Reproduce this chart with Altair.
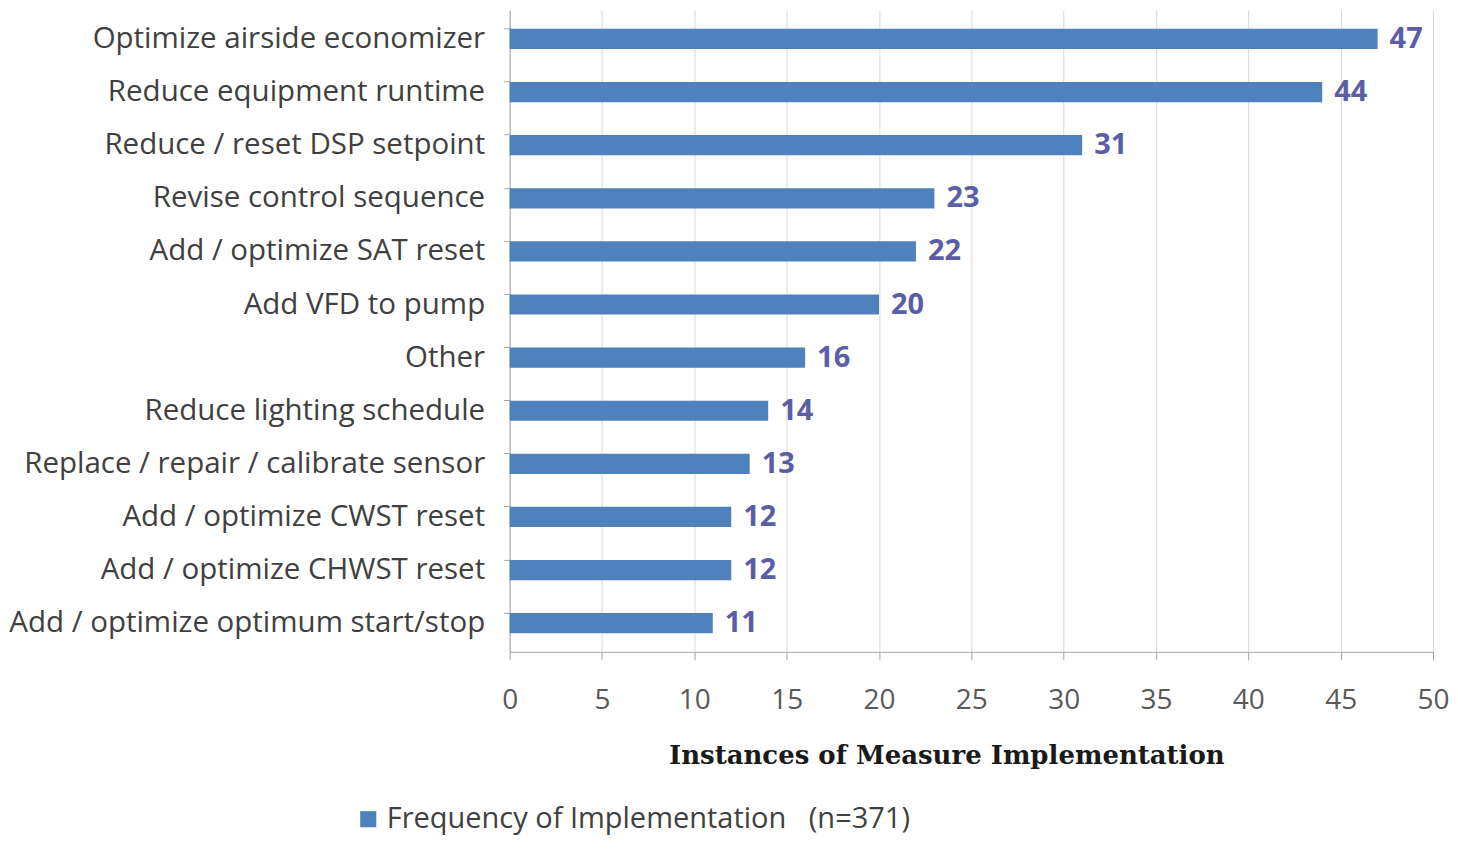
import altair as alt
import pandas as pd

measures = [
    "Optimize airside economizer",
    "Reduce equipment runtime",
    "Reduce / reset DSP setpoint",
    "Revise control sequence",
    "Add / optimize SAT reset",
    "Add VFD to pump",
    "Other",
    "Reduce lighting schedule",
    "Replace / repair / calibrate sensor",
    "Add / optimize CWST reset",
    "Add / optimize CHWST reset",
    "Add / optimize optimum start/stop",
]
counts = [47, 44, 31, 23, 22, 20, 16, 14, 13, 12, 12, 11]
x_ticks = [0, 5, 10, 15, 20, 25, 30, 35, 40, 45, 50]
series_name = "Frequency of Implementation\u00a0\u00a0\u00a0(n=371)"

df = pd.DataFrame({"measure": measures, "count": counts, "series": [series_name] * len(measures)})

FONT = "Open Sans"

y_enc = alt.Y(
    "measure:N",
    sort=measures,
    title=None,
    scale=alt.Scale(paddingInner=0.62, paddingOuter=0.35),
    axis=alt.Axis(
        labelFont=FONT, labelFontSize=29.5, labelColor="#404040",
        domainColor="#A6A6A6", tickColor="#A6A6A6", tickSize=6,
        bandPosition=0, labelPadding=19, labelLimit=600,
        minExtent=501, maxExtent=501, grid=False,
    ),
)
x_enc = alt.X(
    "count:Q",
    scale=alt.Scale(domain=[0, 50], nice=False),
    axis=alt.Axis(
        values=x_ticks, title="Instances of Measure Implementation",
        titleFont="DejaVu Serif", titleFontSize=26, titleFontWeight="bold",
        titleColor="#1a1a1a", titlePadding=28, titleX=437, titleAlign="center",
        labelFont=FONT, labelFontSize=28, labelColor="#595959", labelFlush=False,
        labelPadding=27, tickSize=8, tickColor="#A6A6A6", domainColor="#A6A6A6",
        gridColor="#D9D9D9", grid=True,
    ),
)

bars = alt.Chart(df).mark_bar(color="#4F81BD").encode(
    y=y_enc,
    x=x_enc,
    color=alt.Color(
        "series:N",
        scale=alt.Scale(range=["#4F81BD"]),
        legend=alt.Legend(
            title=None, orient="none", legendX=-156, legendY=795, padding=0,
            symbolType="square", symbolSize=260, symbolStrokeWidth=0,
            labelFont=FONT, labelFontSize=29, labelColor="#404040", labelLimit=800,
        ),
    ),
)

text = alt.Chart(df).mark_text(
    align="left", baseline="middle", dx=12, font=FONT, fontSize=29,
    fontWeight="bold", color="#5B5EA6",
).encode(
    y=alt.Y("measure:N", sort=measures),
    x=alt.X("count:Q"),
    text="count:Q",
)

chart = (bars + text).properties(
    width=924, height=642,
    padding={"left": 0, "top": 2, "right": 0, "bottom": 0},
).configure_view(stroke=None)

chart.save("out.html", embed_options={"renderer": "svg", "actions": False})
